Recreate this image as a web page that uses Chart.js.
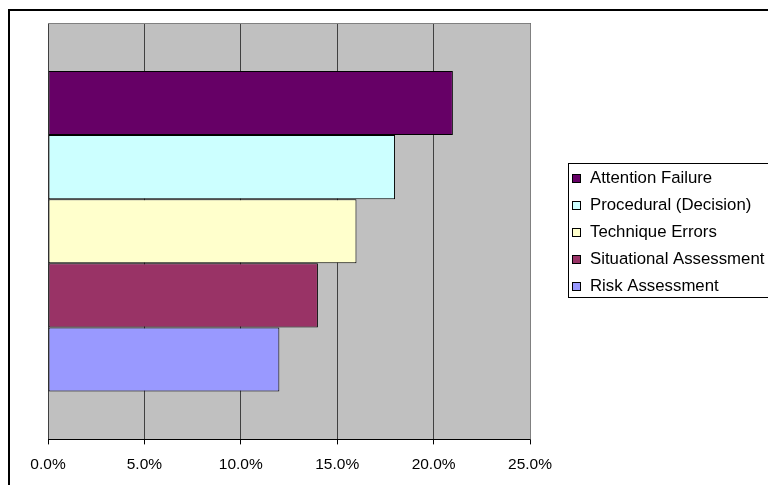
<!DOCTYPE html>
<html>
<head>
<meta charset="utf-8">
<script src="https://cdn.jsdelivr.net/npm/chart.js@4"></script>
<style>
  body { margin: 0; background: #fff; }
  #wrap { position: relative; width: 768px; height: 485px; overflow: hidden; }
  #frame { position: absolute; left: 8px; top: 9px; width: 800px; height: 500px;
           border-top: 2px solid #000; border-left: 2px solid #000; }
  canvas { position: absolute; left: 0; top: 0; }
</style>
</head>
<body>
<div id="wrap">
  <div id="frame"></div>
  <canvas id="errorChart" width="768" height="485"></canvas>
</div>
<script>
// share of accidents by error type, in percent
var errorTypes = ['Attention Failure', 'Procedural (Decision)', 'Technique Errors', 'Situational Assessment', 'Risk Assessment'];
var errorShares = [21, 18, 16, 14, 12];
var barColors = ['#660066', '#CCFFFF', '#FFFFCC', '#993366', '#9999FF'];
var axisMax = 25;
var axisStep = 5;

var datasetArray = errorTypes.map(function (name, i) {
    return {
        label: name,
        data: [errorShares[i]],
        backgroundColor: barColors[i],
        borderColor: '#000',
        borderWidth: 1,
        borderSkipped: false,
        barPercentage: 1,
        categoryPercentage: 0.77
    };
});

// gray plot area with a thin gray frame on top and right
var plotArea = {
    id: 'plotArea',
    beforeDraw: function (chart) {
        var a = chart.chartArea, ctx = chart.ctx;
        ctx.save();
        ctx.fillStyle = '#C0C0C0';
        ctx.fillRect(a.left, a.top, a.right - a.left, a.bottom - a.top);
        ctx.restore();
    },
    afterDraw: function (chart) {
        var a = chart.chartArea, ctx = chart.ctx;
        ctx.save();
        ctx.strokeStyle = '#808080';
        ctx.lineWidth = 1;
        ctx.beginPath();
        ctx.moveTo(a.left, a.top + 0.5);
        ctx.lineTo(a.right + 0.5, a.top + 0.5);
        ctx.lineTo(a.right + 0.5, a.bottom);
        ctx.stroke();
        ctx.restore();
    }
};

// boxed legend to the right of the plot
var sideLegend = {
    id: 'sideLegend',
    afterDraw: function (chart) {
        var ctx = chart.ctx;
        var x = 568, y = 163, rowH = 27;
        ctx.save();
        ctx.strokeStyle = '#000';
        ctx.lineWidth = 1;
        ctx.strokeRect(x + 0.5, y + 0.5, 300, 134);
        ctx.font = '16.8px "Liberation Sans", Arial, sans-serif';
        ctx.textBaseline = 'middle';
        chart.data.datasets.forEach(function (ds, i) {
            var cy = y + 15 + i * rowH;
            ctx.fillStyle = ds.backgroundColor;
            ctx.fillRect(x + 4, cy - 4, 8, 8);
            ctx.strokeRect(x + 4.5, cy - 3.5, 8, 8);
            ctx.fillStyle = '#000';
            ctx.fillText(ds.label, x + 22, cy);
        });
        ctx.restore();
    }
};

var ctx = document.getElementById('errorChart').getContext('2d');
var chart = new Chart(ctx, {
    type: 'bar',
    data: {
        labels: [''],
        datasets: datasetArray
    },
    plugins: [plotArea, sideLegend],
    options: {
        indexAxis: 'y',
        responsive: false,
        animation: false,
        layout: { padding: { top: 23, left: 48, right: 238, bottom: 0 } },
        plugins: {
            legend: { display: false },
            tooltip: { enabled: false }
        },
        scales: {
            y: { display: false },
            x: {
                min: 0,
                max: axisMax,
                ticks: {
                    stepSize: axisStep,
                    padding: 11,
                    color: '#000',
                    font: { family: '"Liberation Sans", Arial, sans-serif', size: 15.5 },
                    callback: function (v) { return v.toFixed(1) + '%'; }
                },
                grid: { color: '#404040', tickColor: '#000', tickLength: 5 },
                border: { color: '#000', width: 1 }
            }
        }
    }
});
</script>
</body>
</html>
